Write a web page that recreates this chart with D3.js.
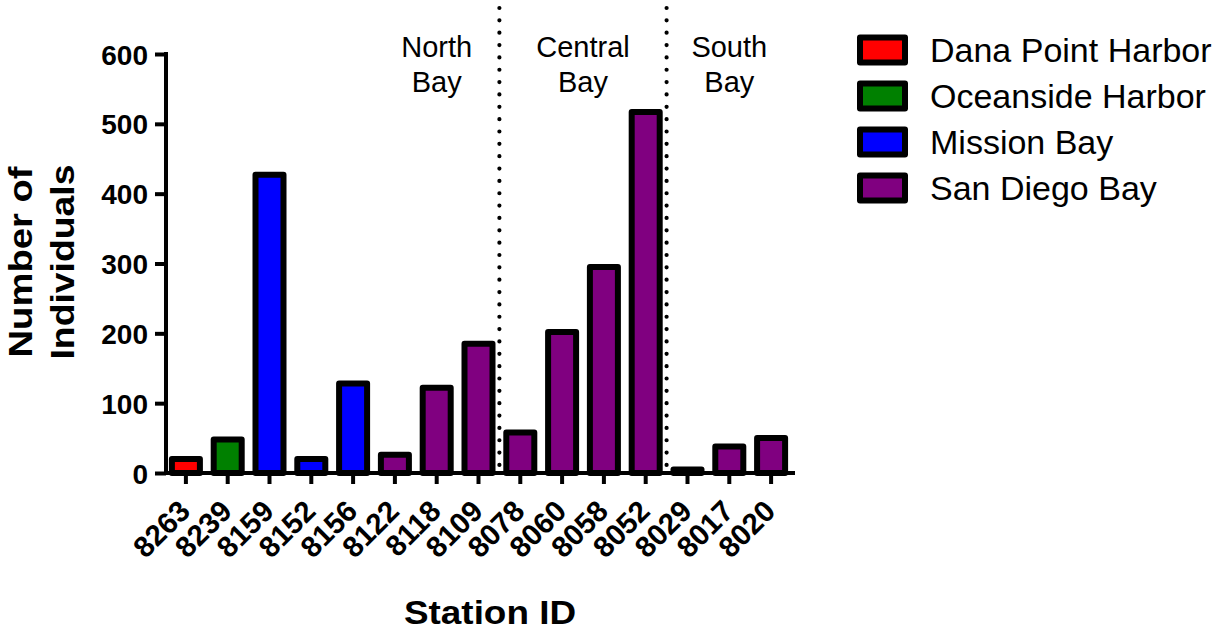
<!DOCTYPE html>
<html><head><meta charset="utf-8">
<script src="https://cdn.jsdelivr.net/npm/d3@7"></script>
<style>body{margin:0;background:#fff}svg{display:block}text{font-family:"Liberation Sans",Arial,sans-serif}</style>
</head><body><svg id="c" width="1231" height="630"></svg>
<script>
const stations = ["8263","8239","8159","8152","8156","8122","8118","8109","8078","8060","8058","8052","8029","8017","8020"];
const counts   = [20, 48, 427, 20, 128, 26, 122, 185, 58, 202, 295, 517, 5, 38, 50];
const sites    = ["Dana Point Harbor","Oceanside Harbor","Mission Bay","Mission Bay","Mission Bay","San Diego Bay","San Diego Bay","San Diego Bay","San Diego Bay","San Diego Bay","San Diego Bay","San Diego Bay","San Diego Bay","San Diego Bay","San Diego Bay"];
const siteNames  = ["Dana Point Harbor","Oceanside Harbor","Mission Bay","San Diego Bay"];
const siteColors = ["#ff0000","#008000","#0000ff","#800080"];
const yTicks = [0,100,200,300,400,500,600];
const regionNames  = [["North","Bay"],["Central","Bay"],["South","Bay"]];
const regionFirst  = ["8122","8078","8029"];
const regionLast   = ["8109","8052","8020"];
const dividersAfter = ["8109","8052"];

const svg = d3.select("#c");
const x = d3.scaleBand().domain(stations).range([165,792]).paddingInner(0.33).paddingOuter(0.165);
const y = d3.scaleLinear().domain([0,600]).range([473,54]);
const color = d3.scaleOrdinal().domain(siteNames).range(siteColors);

// dotted dividers
dividersAfter.forEach(s => {
  const xd = x(s) + x.bandwidth() + (x.step()-x.bandwidth())/2;
  svg.append("line").attr("x1",xd).attr("x2",xd).attr("y1",8).attr("y2",470)
    .attr("stroke","#000").attr("stroke-width",4.2).attr("stroke-linecap","round")
    .attr("stroke-dasharray","0 12.35");
});

// bars
svg.append("g").selectAll("rect").data(stations).join("rect")
  .attr("x", d => x(d)).attr("width", x.bandwidth())
  .attr("y", (d,i) => y(counts[i])).attr("height", (d,i) => y(0)-y(counts[i]))
  .attr("fill", (d,i) => color(sites[i]))
  .attr("stroke","#000").attr("stroke-width",6).attr("stroke-linejoin","round");

// y axis
const ya = svg.append("g").attr("transform","translate(166,0)")
  .call(d3.axisLeft(y).tickValues(yTicks).tickSize(11).tickPadding(7).tickFormat(d3.format("d")));
ya.select(".domain").attr("stroke-width",4).attr("d","M0,52V475");
ya.selectAll(".tick line").attr("stroke-width",4);
ya.selectAll(".tick text").attr("font-size",28).attr("font-weight","bold").attr("fill","#000")
  .attr("font-family","'Liberation Sans',Arial,sans-serif").attr("dy","0.36em");

// x axis
const xa = svg.append("g").attr("transform","translate(0,473)")
  .call(d3.axisBottom(x).tickSize(11).tickSizeOuter(0));
xa.select(".domain").attr("stroke-width",4).attr("d","M164,0H795");
xa.selectAll(".tick line").attr("stroke-width",4);
xa.selectAll(".tick text").attr("font-size",29.5).attr("font-weight","bold").attr("fill","#000")
  .attr("font-family","'Liberation Sans',Arial,sans-serif")
  .attr("text-anchor","end").attr("dy",0).attr("y",0)
  .attr("transform","translate(6,40) rotate(-45)");

// axis titles
svg.append("text").attr("x",490).attr("y",624).attr("text-anchor","middle")
  .attr("font-size",33).attr("font-weight","bold")
  .attr("textLength",172).attr("lengthAdjust","spacingAndGlyphs").text("Station ID");
const yt = svg.append("text").attr("transform","translate(0,262) rotate(-90)")
  .attr("text-anchor","middle").attr("font-size",33).attr("font-weight","bold");
yt.append("tspan").attr("x",0).attr("y",32).attr("textLength",191).attr("lengthAdjust","spacingAndGlyphs").text("Number of");
yt.append("tspan").attr("x",0).attr("y",74).attr("textLength",195).attr("lengthAdjust","spacingAndGlyphs").text("Individuals");

// region labels
regionNames.forEach((lines,i) => {
  const cx = (x(regionFirst[i]) + x(regionLast[i]) + x.bandwidth())/2;
  const t = svg.append("text").attr("text-anchor","middle").attr("font-size",29);
  lines.forEach((l,j) => t.append("tspan").attr("x",cx).attr("y",57+35*j).text(l));
});

// legend
const lg = svg.append("g").selectAll("g").data(siteNames).join("g")
  .attr("transform",(d,i) => `translate(860,${50+46*i})`);
lg.append("rect").attr("x",0).attr("y",-12.5).attr("width",45).attr("height",25)
  .attr("fill", d => color(d)).attr("stroke","#000").attr("stroke-width",6).attr("stroke-linejoin","round");
lg.append("text").attr("x",70).attr("y",11.5).attr("font-size",34).text(d => d);
</script></body></html>
